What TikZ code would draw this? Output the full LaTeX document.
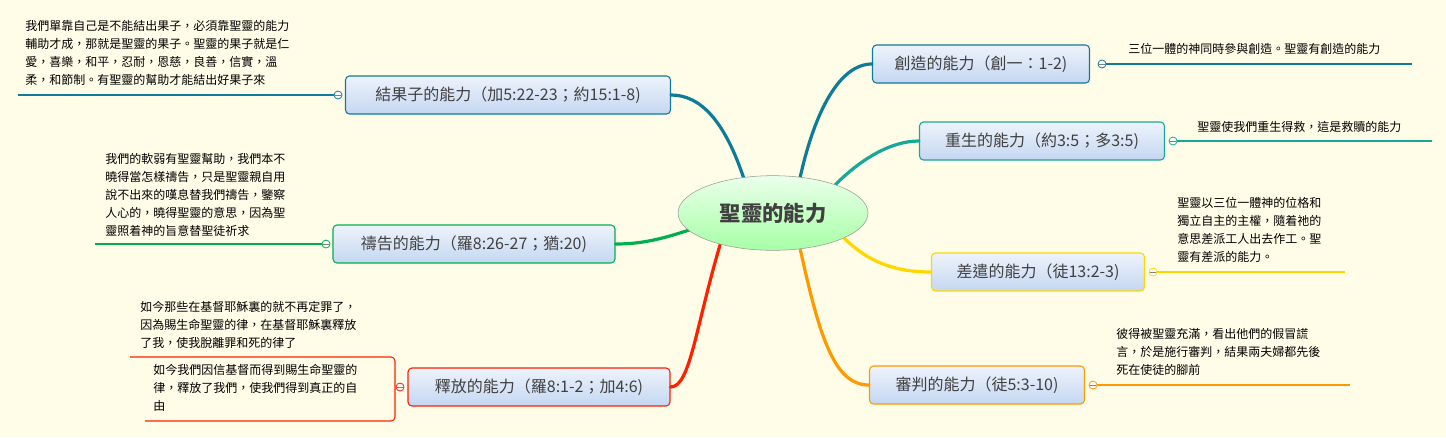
\documentclass[tikz,border=0pt]{standalone}
\usepackage{fontspec}
\setmainfont{Noto Sans CJK TC}
\usetikzlibrary{shapes.geometric}
\begin{document}
\begin{tikzpicture}[x=0.75pt,y=-0.75pt,
  topic/.style={draw=#1,line width=0.8pt,rounded corners=3pt,top color=ctop,bottom color=cbot,font=\fontsize{12}{14}\selectfont,text=black!75,minimum height=28.5pt,inner xsep=8pt,anchor=center},
  detail/.style={font=\fontsize{9}{13.5}\selectfont,align=left,inner sep=0pt,anchor=north west,text=black},
  knob/.style={draw=#1,fill=white,circle,inner sep=0pt,minimum size=6pt,line width=0.6pt},
  lead/.style={draw=#1,line width=0.8pt},
  branch/.style={draw=#1,line width=2.4pt,line cap=round}]
\definecolor{cteal}{HTML}{0E7B98}
\definecolor{cgreen}{HTML}{00B050}
\definecolor{cred}{HTML}{FF2000}
\definecolor{cturq}{HTML}{17A89A}
\definecolor{cyel}{HTML}{FFD700}
\definecolor{corange}{HTML}{FF9900}
\definecolor{ctop}{HTML}{EEF3FC}
\definecolor{cbot}{HTML}{C4D7F1}
\fill[fill={rgb,255:red,255;green,253;blue,232}] (0,0) rectangle (1446,437);
\useasboundingbox (0,0) rectangle (1446,437);

% branches
\coordinate (c1) at (745,182);
\coordinate (c2) at (695,228);
\coordinate (c3) at (720,245);
\coordinate (c4) at (800,178);
\coordinate (c5) at (835,185);
\coordinate (c6) at (842,236);
\coordinate (c7) at (800,248);
\node[topic=cteal,minimum width=243.75pt] (t1) at (508,95) {結果子的能力（加5:22-23；約15:1-8)};
\node[topic=cgreen,minimum width=211.5pt] (t2) at (474,244) {禱告的能力（羅8:26-27；猶:20)};
\node[topic=cred,minimum width=196.5pt] (t3) at (539,387) {釋放的能力（羅8:1-2；加4:6)};
\node[topic=cteal,minimum width=162.75pt] (t4) at (981,64) {創造的能力（創一：1-2)};
\node[topic=cturq,minimum width=183.75pt] (t5) at (1042,141) {重生的能力（約3:5；多3:5)};
\node[topic=cyel,minimum width=159.75pt] (t6) at (1038,272) {差遣的能力（徒13:2-3)};
\node[topic=corange,minimum width=161.25pt] (t7) at (977,385) {審判的能力（徒5:3-10)};

\draw[branch=cteal] (c1) .. controls (725,120) and (700,95) .. (t1.east);
\draw[branch=cgreen] (c2) .. controls (660,240) and (640,244) .. (t2.east);
\draw[branch=cred] (c3) .. controls (695,330) and (690,387) .. (t3.east);
\draw[branch=cteal] (c4) .. controls (815,110) and (840,64) .. (t4.west);
\draw[branch=cturq] (c5) .. controls (860,160) and (890,141) .. (t5.west);
\draw[branch=cyel] (c6) .. controls (870,265) and (900,272) .. (t6.west);
\draw[branch=corange] (c7) .. controls (820,340) and (835,385) .. (t7.west);

\node[draw=black!40,ellipse,minimum width=142.5pt,minimum height=56pt,top color=green!8!white,bottom color=green!35!white,inner sep=0pt,font=\fontsize{16}{18}\selectfont\bfseries,text=black!75] (root) at (773,213) {聖靈的能力};

% knobs and leads
\node[knob=cteal] (k1) at (338,95) {};
\coordinate (e1) at (18,95);
\draw[lead=cteal] (k1) -- (e1);
\node[knob=cgreen] (k2) at (326,244) {};
\coordinate (e2) at (95,244);
\draw[lead=cgreen] (k2) -- (e2);
\node[knob=cred] (k3) at (400,387) {};
\draw[cred,line width=0.8pt,rounded corners=3pt] (130,357) -- (395,357) -- (395,421) -- (145,421);
\node[knob=cteal] (k4) at (1102,64) {};
\coordinate (e4) at (1412,64);
\draw[lead=cteal] (k4) -- (e4);
\node[knob=cturq] (k5) at (1173,141) {};
\coordinate (e5) at (1432,141);
\draw[lead=cturq] (k5) -- (e5);
\node[knob=cyel] (k6) at (1153,272) {};
\coordinate (e6) at (1345,272);
\draw[lead=cyel] (k6) -- (e6);
\node[knob=corange] (k7) at (1093,385) {};
\coordinate (e7) at (1350,385);
\draw[lead=corange] (k7) -- (e7);
\foreach \k in {k1,k2,k3,k4,k5,k6,k7}{\draw[line width=0.5pt,black!50] ([xshift=-2pt]\k.center) -- ([xshift=2pt]\k.center);}

% details
\node[detail] (d1) at (25,20) {我們單靠自己是不能結出果子，必須靠聖靈的能力\\輔助才成，那就是聖靈的果子。聖靈的果子就是仁\\愛，喜樂，和平，忍耐，恩慈，良善，信實，溫\\柔，和節制。有聖靈的幫助才能結出好果子來};
\node[detail] (d2) at (105,153) {我們的軟弱有聖靈幫助，我們本不\\曉得當怎樣禱告，只是聖靈親自用\\說不出來的嘆息替我們禱告，鑒察\\人心的，曉得聖靈的意思，因為聖\\靈照着神的旨意替聖徒祈求};
\node[detail] (d3) at (140,301) {如今那些在基督耶穌裏的就不再定罪了，\\因為賜生命聖靈的律，在基督耶穌裏釋放\\了我，使我脫離罪和死的律了};
\node[detail] (d3b) at (153,364) {如今我們因信基督而得到賜生命聖靈的\\律，釋放了我們，使我們得到真正的自\\由};
\node[detail] (d4) at (1128,43) {三位一體的神同時參與創造。聖靈有創造的能力};
\node[detail] (d5) at (1197,121) {聖靈使我們重生得救，這是救贖的能力};
\node[detail] (d6) at (1177,197) {聖靈以三位一體神的位格和\\獨立自主的主權，隨着祂的\\意思差派工人出去作工。聖\\靈有差派的能力。};
\node[detail] (d7) at (1116,328) {彼得被聖靈充滿，看出他們的假冒謊\\言，於是施行審判，結果兩夫婦都先後\\死在使徒的腳前};
\end{tikzpicture}
\end{document}
